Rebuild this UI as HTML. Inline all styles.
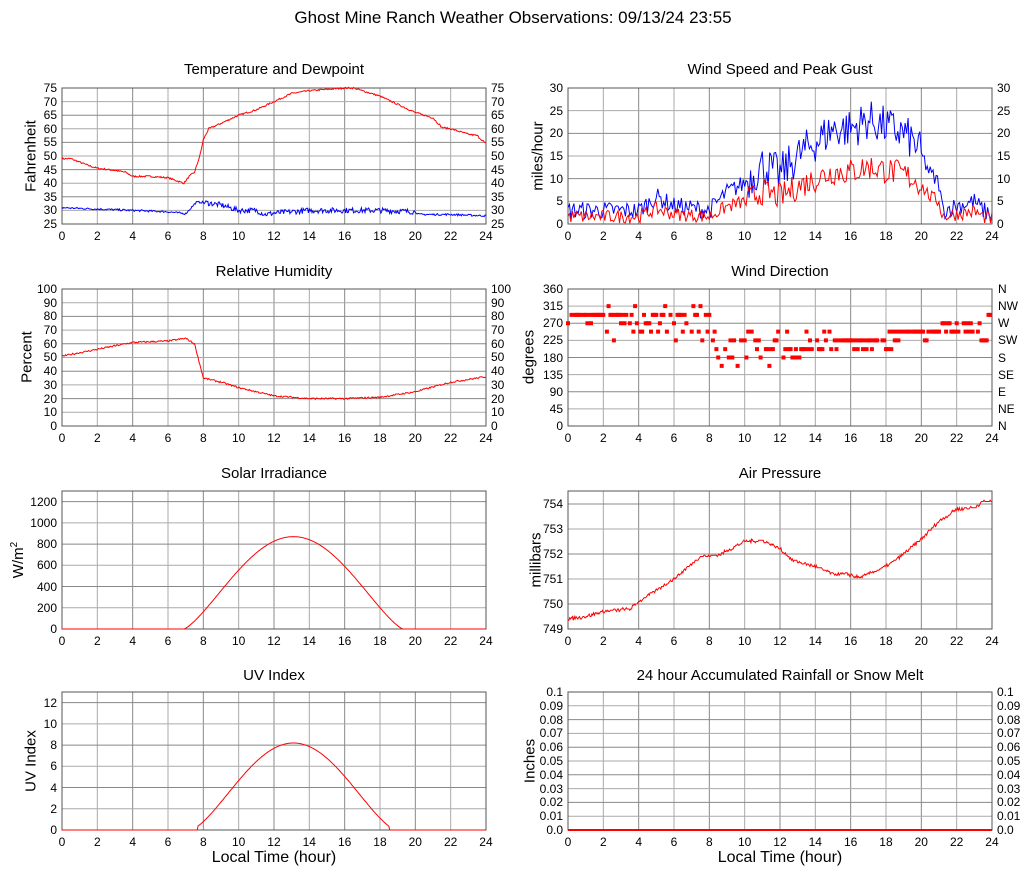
<!DOCTYPE html>
<html><head><meta charset="utf-8"><style>
body{margin:0;background:#fff;font-family:"Liberation Sans",sans-serif;color:#000}
#w{position:relative;width:1027px;height:878px;overflow:hidden}
svg{position:absolute;left:0;top:0}
.t{position:absolute;font-size:15px;white-space:nowrap;transform:translateX(-50%)}
.yl{position:absolute;display:flex;flex-direction:column;justify-content:space-between;font-size:12px}
.yl span{height:0;line-height:0;white-space:nowrap}
.r span{text-align:right}
.xl{position:absolute;display:flex;justify-content:space-between;font-size:12px;height:14px}
.xl span{width:0;display:flex;justify-content:center;white-space:nowrap}
.at{position:absolute;font-size:15px;white-space:nowrap;transform:translate(-50%,-50%) rotate(-90deg)}
</style></head><body><div id="w">
<svg id="s" width="1027" height="878"></svg>
<div class="t" style="left:513px;top:8px;font-size:17px">Ghost Mine Ranch Weather Observations: 09/13/24 23:55</div>
<div class="t" style="left:274px;top:61px">Temperature and Dewpoint</div>
<div class="t" style="left:780px;top:61px">Wind Speed and Peak Gust</div>
<div class="t" style="left:274px;top:263px">Relative Humidity</div>
<div class="t" style="left:780px;top:263px">Wind Direction</div>
<div class="t" style="left:274px;top:465px">Solar Irradiance</div>
<div class="t" style="left:780px;top:465px">Air Pressure</div>
<div class="t" style="left:274px;top:667px">UV Index</div>
<div class="t" style="left:780px;top:667px">24 hour Accumulated Rainfall or Snow Melt</div>

<div class="at" style="left:31px;top:156px">Fahrenheit</div>
<div class="at" style="left:538px;top:156px">miles/hour</div>
<div class="at" style="left:27px;top:357px">Percent</div>
<div class="at" style="left:529px;top:357px">degrees</div>
<div class="at" style="left:18px;top:560px">W/m<sup style="font-size:10px">2</sup></div>
<div class="at" style="left:536px;top:560px">millibars</div>
<div class="at" style="left:31px;top:761px">UV Index</div>
<div class="at" style="left:530px;top:761px">Inches</div>
<div class="t" style="left:274px;top:849px;font-size:16px">Local Time (hour)</div>
<div class="t" style="left:780px;top:849px;font-size:16px">Local Time (hour)</div>

<div class="yl r" style="left:20px;width:37px;top:88px;height:136px"><span>75</span><span>70</span><span>65</span><span>60</span><span>55</span><span>50</span><span>45</span><span>40</span><span>35</span><span>30</span><span>25</span></div>
<div class="yl" style="left:491px;top:88px;height:136px"><span>75</span><span>70</span><span>65</span><span>60</span><span>55</span><span>50</span><span>45</span><span>40</span><span>35</span><span>30</span><span>25</span></div>
<div class="yl r" style="left:526px;width:37px;top:88px;height:136px"><span>30</span><span>25</span><span>20</span><span>15</span><span>10</span><span>5</span><span>0</span></div>
<div class="yl" style="left:997px;top:88px;height:136px"><span>30</span><span>25</span><span>20</span><span>15</span><span>10</span><span>5</span><span>0</span></div>
<div class="yl r" style="left:20px;width:37px;top:289px;height:137px"><span>100</span><span>90</span><span>80</span><span>70</span><span>60</span><span>50</span><span>40</span><span>30</span><span>20</span><span>10</span><span>0</span></div>
<div class="yl" style="left:491px;top:289px;height:137px"><span>100</span><span>90</span><span>80</span><span>70</span><span>60</span><span>50</span><span>40</span><span>30</span><span>20</span><span>10</span><span>0</span></div>
<div class="yl r" style="left:526px;width:37px;top:289px;height:137px"><span>360</span><span>315</span><span>270</span><span>225</span><span>180</span><span>135</span><span>90</span><span>45</span><span>0</span></div>
<div class="yl" style="left:998px;top:289px;height:137px"><span>N</span><span>NW</span><span>W</span><span>SW</span><span>S</span><span>SE</span><span>E</span><span>NE</span><span>N</span></div>
<div class="yl r" style="left:15px;width:42px;top:502px;height:127px"><span>1200</span><span>1000</span><span>800</span><span>600</span><span>400</span><span>200</span><span>0</span></div>
<div class="yl r" style="left:526px;width:37px;top:504px;height:125px"><span>754</span><span>753</span><span>752</span><span>751</span><span>750</span><span>749</span></div>
<div class="yl r" style="left:20px;width:37px;top:703px;height:127px"><span>12</span><span>10</span><span>8</span><span>6</span><span>4</span><span>2</span><span>0</span></div>
<div class="yl r" style="left:526px;width:37px;top:692px;height:138px"><span>0.1</span><span>0.09</span><span>0.08</span><span>0.07</span><span>0.06</span><span>0.05</span><span>0.04</span><span>0.03</span><span>0.02</span><span>0.01</span><span>0.0</span></div>
<div class="yl" style="left:997px;top:692px;height:138px"><span>0.1</span><span>0.09</span><span>0.08</span><span>0.07</span><span>0.06</span><span>0.05</span><span>0.04</span><span>0.03</span><span>0.02</span><span>0.01</span><span>0.0</span></div>

<div class="xl" style="left:62px;width:424px;top:229px"><span>0</span><span>2</span><span>4</span><span>6</span><span>8</span><span>10</span><span>12</span><span>14</span><span>16</span><span>18</span><span>20</span><span>22</span><span>24</span></div>
<div class="xl" style="left:568px;width:424px;top:229px"><span>0</span><span>2</span><span>4</span><span>6</span><span>8</span><span>10</span><span>12</span><span>14</span><span>16</span><span>18</span><span>20</span><span>22</span><span>24</span></div>
<div class="xl" style="left:62px;width:424px;top:431px"><span>0</span><span>2</span><span>4</span><span>6</span><span>8</span><span>10</span><span>12</span><span>14</span><span>16</span><span>18</span><span>20</span><span>22</span><span>24</span></div>
<div class="xl" style="left:568px;width:424px;top:431px"><span>0</span><span>2</span><span>4</span><span>6</span><span>8</span><span>10</span><span>12</span><span>14</span><span>16</span><span>18</span><span>20</span><span>22</span><span>24</span></div>
<div class="xl" style="left:62px;width:424px;top:634px"><span>0</span><span>2</span><span>4</span><span>6</span><span>8</span><span>10</span><span>12</span><span>14</span><span>16</span><span>18</span><span>20</span><span>22</span><span>24</span></div>
<div class="xl" style="left:568px;width:424px;top:634px"><span>0</span><span>2</span><span>4</span><span>6</span><span>8</span><span>10</span><span>12</span><span>14</span><span>16</span><span>18</span><span>20</span><span>22</span><span>24</span></div>
<div class="xl" style="left:62px;width:424px;top:835px"><span>0</span><span>2</span><span>4</span><span>6</span><span>8</span><span>10</span><span>12</span><span>14</span><span>16</span><span>18</span><span>20</span><span>22</span><span>24</span></div>
<div class="xl" style="left:568px;width:424px;top:835px"><span>0</span><span>2</span><span>4</span><span>6</span><span>8</span><span>10</span><span>12</span><span>14</span><span>16</span><span>18</span><span>20</span><span>22</span><span>24</span></div>
</div>
<script>
(function(){
var s=document.getElementById('s'),h='';
var seed=7;function rnd(){seed=(seed*16807)%2147483647;return seed/2147483647;}
function grid(x0,y0,y1,ticks){
  for(var k=1;k<12;k++){var x=x0+k*424/12;h+='<line x1="'+x+'" y1="'+y0+'" x2="'+x+'" y2="'+y1+'" stroke="'+(k%2?'#aaa':'#888')+'" stroke-width="1"/>';}
  ticks.forEach(function(y,i){h+='<line x1="'+x0+'" y1="'+y+'" x2="'+(x0+424)+'" y2="'+y+'" stroke="'+(i%2?'#aaa':'#888')+'"/>';});
  h+='<rect x="'+x0+'" y="'+y0+'" width="424" height="'+(y1-y0)+'" fill="none" stroke="#555"/>';
}
function lin(a,b,n){var r=[];for(var i=0;i<=n;i++)r.push(a+(b-a)*i/n);return r;}
grid(62,88,224,lin(88,224,10));
grid(568,88,224,lin(88,224,6));
grid(62,289,426,lin(289,426,10));
grid(568,289,426,lin(289,426,8));
grid(62,491,629,lin(501.6,629,6));
grid(568,491,629,lin(504,629,5));
grid(62,692,830,lin(702.6,830,6));
grid(568,692,830,lin(692,830,10));
function interp(k,t){for(var i=0;i<k.length-1;i++){if(t<=k[i+1][0]){var a=k[i],b=k[i+1];return a[1]+(b[1]-a[1])*(t-a[0])/(b[0]-a[0]);}}return k[k.length-1][1];}
function line(x0,fy,f,col,n,noise,step){
  var p=[];n=n||480;for(var i=0;i<=n;i++){var t=24*i/n;var v=f(t);if(noise)v+=noise(t)*(rnd()-0.5);if(step)v=Math.round(v/step)*step;p.push((x0+t*424/24).toFixed(1)+','+fy(v).toFixed(1));}
  h+='<polyline points="'+p.join(' ')+'" fill="none" stroke="'+col+'" stroke-width="1"/>';
}
var T=[[0,49],[0.5,49],[1.5,46.5],[2,45.5],[3,44.7],[3.6,44],[4,42.5],[5,42.5],[6,42],[6.9,40],[7.2,42.5],[7.5,44],[7.8,50],[8,56],[8.3,60],[9,62],[10,65],[11,67],[12,70],[13,73],[14,74],[15,74.5],[16,75],[16.5,75],[17,74],[18,72],[19,69],[20,66],[21,64],[21.5,60.5],[22,60],[23,58],[23.5,57.5],[24,54.5]];
var D=[[0,31],[2,30.5],[4,30],[6,29.5],[7,28.8],[7.6,33],[8,33],[9,32],[10,30],[11,30],[11.5,28.5],[12,29],[14,30],[16,30],[18,30],[20,29.5],[20.2,28.5],[22,28.5],[24,28]];
var ty=function(v){return 224-(v-25)*2.72;};
line(62,ty,function(t){return interp(T,t);},'#f00',480,function(){return 0.6;});
line(62,ty,function(t){return interp(D,t);},'#00f',480,function(t){return t>8&&t<20?2:0.7;});
var G=[[0,3],[4,3],[5,6],[6,4],[8,3],[9,7],[10,9],[11,13],[12,11],[13,15],[14,18],[15,21],[16,21],[17,23],[18,21.5],[19,20],[19.8,17],[20.5,11],[21,9],[21.2,3],[22,4],[23,5],[23.5,3],[24,2]];
var wy=function(v){return 224-Math.max(0,v)*4.533;};
line(568,wy,function(t){return interp(G,t);},'#00f',288,function(t){return t>10&&t<20?9:4;});
line(568,wy,function(t){return interp(G,t)*0.55;},'#f00',288,function(t){return t>10&&t<20?6:3;});
var R=[[0,51],[2,56],[4,61],[6,62],[7,64],[7.5,60],[8,35],[9,32],[10,28],[12,22],[14,20],[16,20],[18,21],[20,25],[22,32],[24,36]];
line(62,function(v){return 426-v*1.37;},function(t){return interp(R,t);},'#f00',480,function(){return 1.2;});
line(62,function(v){return 629-v*138/1300;},function(t){if(t<6.9||t>19.3)return 0;return 870*Math.pow(Math.sin(Math.PI*(t-6.9)/12.4),1.3);},'#f00');
var P=[[0,749.4],[1,749.5],[2,749.7],[3.5,749.8],[4,750.1],[6,751],[7.5,751.9],[8.5,751.95],[10,752.5],[11,752.55],[12,752.2],[12.7,751.75],[14,751.5],[15,751.2],[15.8,751.2],[16.5,751.05],[18,751.5],[19,752],[20,752.6],[21,753.3],[22,753.8],[23,753.85],[23.5,754.1],[24,754.1]];
line(568,function(v){return 629-(v-749)*25;},function(t){return interp(P,t);},'#f00',480,function(){return 0.12;},0.05);
line(62,function(v){return 830-v*10.615;},function(t){if(t<7.7||t>18.5)return 0;return 8.2*Math.pow(Math.sin(Math.PI*(t-7.3)/11.6),1.4);},'#f00');
h+='<line x1="568" y1="830" x2="992" y2="830" stroke="#f00" stroke-width="2"/>';
for(var t=0;t<=24;t+=0.1){var v;var r=rnd();
 if(rnd()<0.12)continue;
 if(t<8){v=r<0.55?292:(r<0.75?270:(r<0.87?248:(r<0.95?315:225)));}
 else if(t<14){v=r<0.5?202:(r<0.7?180:(r<0.85?225:(r<0.93?158:248)));}
 else if(t<18.5){v=r<0.55?225:(r<0.9?202:248);}
 else if(t<21){v=r<0.9?248:225;}
 else if(t<23.4){v=r<0.5?270:248;}
 else v=t<23.8?225:292;
 var x=568+t*424/24,y=426-v*137/360;
 h+='<rect x="'+(x-2).toFixed(1)+'" y="'+(y-2)+'" width="4" height="4" fill="#f00"/>';}
s.innerHTML=h;
})();
</script>
</body></html>
